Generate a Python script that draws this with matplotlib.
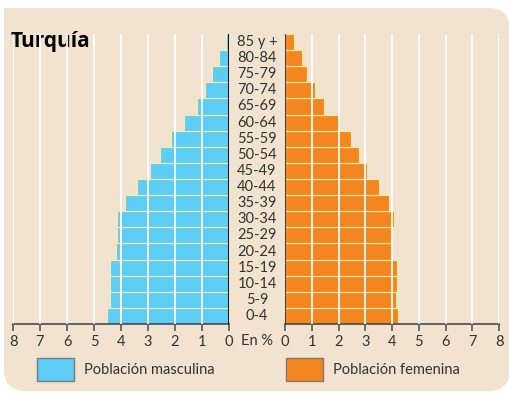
import matplotlib.pyplot as plt
from matplotlib.patches import FancyBboxPatch, Rectangle
import numpy as np

# age groups, bottom to top
grupos = ['0-4', '5-9', '10-14', '15-19', '20-24', '25-29', '30-34', '35-39',
          '40-44', '45-49', '50-54', '55-59', '60-64', '65-69', '70-74',
          '75-79', '80-84', '85 y +']
# share of total population (%)
hombres = [4.51, 4.40, 4.40, 4.40, 4.18, 4.13, 4.13, 3.85, 3.41, 2.93,
           2.56, 2.15, 1.67, 1.19, 0.89, 0.63, 0.37, 0.11]
mujeres = [4.24, 4.16, 4.18, 4.19, 4.00, 4.00, 4.07, 3.87, 3.52, 3.07,
           2.75, 2.47, 2.03, 1.47, 1.13, 0.83, 0.62, 0.35]
ticks = list(range(0, 9))

azul = '#5ecdf6'
naranja = '#f4861f'
fondo = '#f1e3cf'
borde = '#f7eea2'

W, H = 510, 393
fig = plt.figure(figsize=(W / 100, H / 100), dpi=100)
fig.patch.set_facecolor('white')

# background panel in pixel coordinates
bg = fig.add_axes([0, 0, 1, 1])
bg.set_xlim(0, W)
bg.set_ylim(H, 0)
bg.axis('off')
bg.add_patch(FancyBboxPatch((4, 8), W - 4, 383,
                            boxstyle='round,pad=0,rounding_size=22',
                            facecolor=fondo, edgecolor='none'))
bg.add_patch(Rectangle((4, 8), 40, 40, facecolor=fondo, edgecolor='none'))

y = np.arange(len(grupos))
bottom = 1 - 324 / H
height = (324 - 34) / H

def estilo(ax):
    ax.set_facecolor('none')
    ax.set_ylim(-0.5, len(grupos) - 0.5)
    ax.set_yticks([])
    for s in ['top', 'left', 'right']:
        ax.spines[s].set_visible(False)
    ax.spines['bottom'].set_color('#4a4a4a')
    ax.spines['bottom'].set_linewidth(1.2)
    ax.set_xticks(ticks)
    ax.tick_params(axis='x', direction='out', length=5, width=1.1,
                   color='#4a4a4a', labelsize=10.5, labelcolor='#333333', pad=3)
    for t in ax.get_xticklabels():
        t.set_fontfamily('Lato')
    for v in ticks[1:]:
        ax.axvline(v, color='white', lw=1.3, zorder=3)

# men
axl = fig.add_axes([13 / W, bottom, (229 - 13) / W, height])
axl.barh(y, hombres, height=1.0, color=azul, edgecolor=borde, lw=0.8, zorder=2)
axl.set_xlim(8, 0)
estilo(axl)
axl.axvline(0, color='black', lw=1.3, zorder=4)

# women
axr = fig.add_axes([285 / W, bottom, (499 - 285) / W, height])
axr.barh(y, mujeres, height=1.0, color=naranja, edgecolor=borde, lw=0.8, zorder=2)
axr.set_xlim(0, 8)
estilo(axr)
axr.axvline(0, color='#3a2a1a', lw=1.3, zorder=4)

# age labels in the middle
for i, g in enumerate(grupos):
    py = 324 - (i + 0.5) * (324 - 34) / len(grupos)
    bg.text(257, py, g, ha='center', va='center', fontsize=10.5,
            color='#333333', family='Lato', zorder=5)
bg.text(257, 341, 'En %', ha='center', va='center', fontsize=10.5,
        color='#333333', family='Lato')

bg.text(11, 42, 'Turquía', ha='left', va='center', fontsize=15,
        fontweight='bold', color='black', family='Open Sans')

# legend
bg.add_patch(Rectangle((37, 358), 37, 23, facecolor=azul, edgecolor='#7a7a7a', lw=1))
bg.text(84, 370, 'Población masculina', ha='left', va='center', fontsize=10.5,
        color='#333333', family='Lato')
bg.add_patch(Rectangle((286, 358), 37, 23, facecolor=naranja, edgecolor='#7a7a7a', lw=1))
bg.text(333, 370, 'Población femenina', ha='left', va='center', fontsize=10.5,
        color='#333333', family='Lato')

fig.savefig('out.png', dpi=100, facecolor=fig.get_facecolor())
